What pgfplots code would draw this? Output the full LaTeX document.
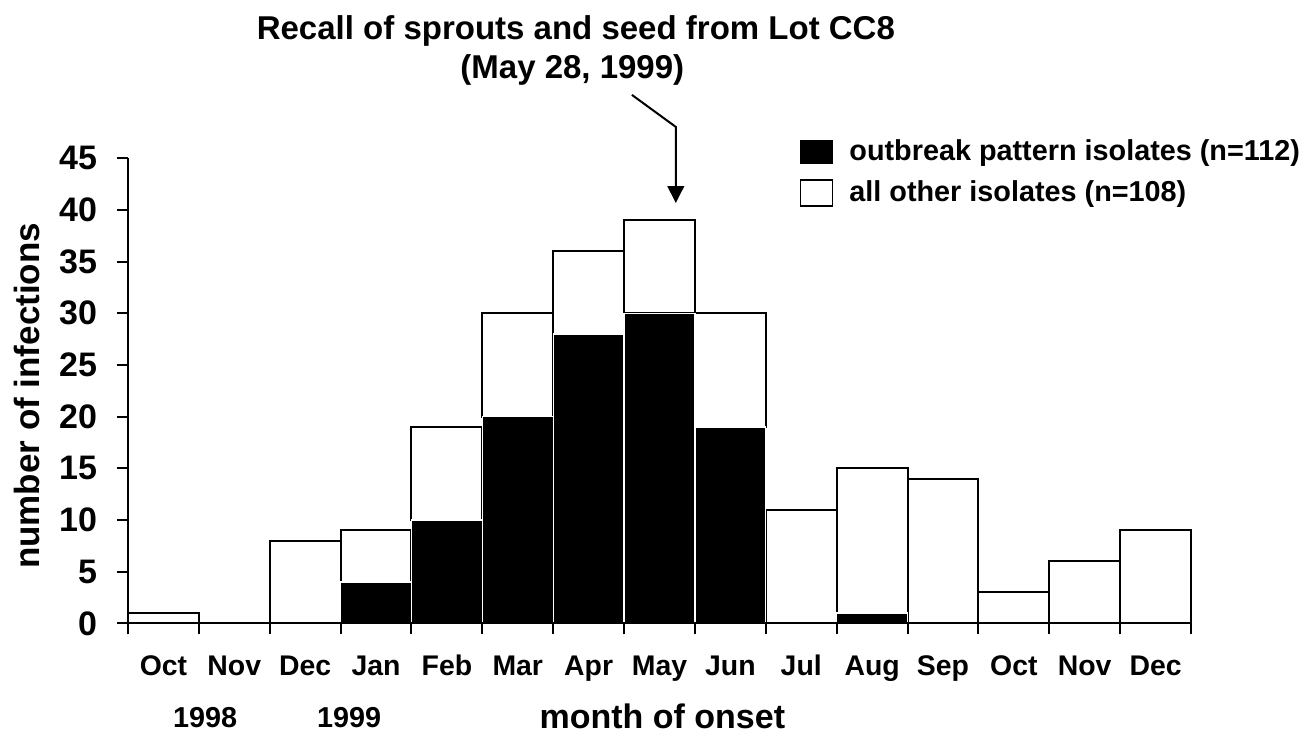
\documentclass[border=0pt]{standalone}
\usepackage{fontspec}
\setmainfont{Liberation Sans}
\usepackage{pgfplots}
\pgfplotsset{compat=1.18}
\newcommand\fs[1]{\fontsize{#1}{#1}\selectfont\bfseries}
\begin{document}
\begin{tikzpicture}
\begin{axis}[
  at={(0,0)}, anchor=south west,
  scale only axis, width=531.5pt, height=232.5pt,
  xmin=0, xmax=15, ymin=0, ymax=45,
  axis lines*=left,
  axis line style={line width=1pt},
  axis on top,
  clip=false,
  ybar stacked, bar width=1,
  xtick={0,1,...,15}, xticklabels={},
  ytick={0,5,...,45},
  tick align=outside, major tick length=5.5pt,
  tick style={line width=1pt, black},
  /pgf/number format/assume math mode=true,
  yticklabel style={font=\fs{17}, anchor=east, xshift=-6.5pt},
  extra x ticks={0.5,1.5,...,14.5},
  extra x tick labels={Oct,Nov,Dec,Jan,Feb,Mar,Apr,May,Jun,Jul,Aug,Sep,Oct,Nov,Dec},
  extra x tick style={tick style={draw=none}, xticklabel style={font=\fs{14.2}, anchor=base, yshift=-20.5pt}},
  every axis y label/.style={at={(axis description cs:-0.095,0.489)}, rotate=90, anchor=center, font=\fs{17.5}},
  ylabel={number of infections},
  legend style={draw=none, fill=none, at={(axis description cs:0.632,0.9695)}, anchor=west,
    font=\fs{14.4}, row sep=6.5pt, inner sep=0pt, nodes={inner sep=1pt}},
  legend cell align=left,
]
\addplot[fill=black, draw=white, line width=0.6pt,
  legend image code/.code={\draw[fill=black, draw=black, line width=0.6pt] (0pt,-5.5pt) rectangle (16pt,5.5pt);}]
  coordinates {(0.5,0) (1.5,0) (2.5,0) (3.5,4) (4.5,10) (5.5,20) (6.5,28) (7.5,30) (8.5,19) (9.5,0) (10.5,1) (11.5,0) (12.5,0) (13.5,0) (14.5,0)};
\addlegendentry{\hspace{7pt}outbreak pattern isolates (n=112)}
\addplot[fill=white, draw=black, line width=1pt,
  legend image code/.code={\draw[fill=white, draw=black, line width=0.6pt] (0pt,-6.5pt) rectangle (16pt,6.5pt);}]
  coordinates {(0.5,1) (1.5,0) (2.5,8) (3.5,5) (4.5,9) (5.5,10) (6.5,8) (7.5,9) (8.5,11) (9.5,11) (10.5,14) (11.5,14) (12.5,3) (13.5,6) (14.5,9)};
\addlegendentry{\hspace{7pt}all other isolates (n=108)}
\node[font=\fs{14.4}, anchor=base] at (axis cs:1.09,-10.13) {1998};
\node[font=\fs{14.4}, anchor=base] at (axis cs:3.12,-10.13) {1999};
\node[font=\fs{17}, anchor=base] at (axis cs:7.54,-10.2) {month of onset};
\node[font=\fs{16.5}, anchor=base] at (axis cs:6.32,56.45) {Recall of sprouts and seed from Lot CC8};
\node[font=\fs{16.5}, anchor=base] at (axis cs:6.27,52.77) {(May 28, 1999)};
\draw[line width=1pt] (axis cs:7.11,51.14) -- (axis cs:7.73,48.04) -- (axis cs:7.73,42.3);
\fill (axis cs:7.61,42.3) -- (axis cs:7.85,42.3) -- (axis cs:7.73,40.68) -- cycle;
\end{axis}
\pgfresetboundingbox
\path (-64pt,-56.35pt) rectangle (594pt,311.65pt);
\end{tikzpicture}
\end{document}
